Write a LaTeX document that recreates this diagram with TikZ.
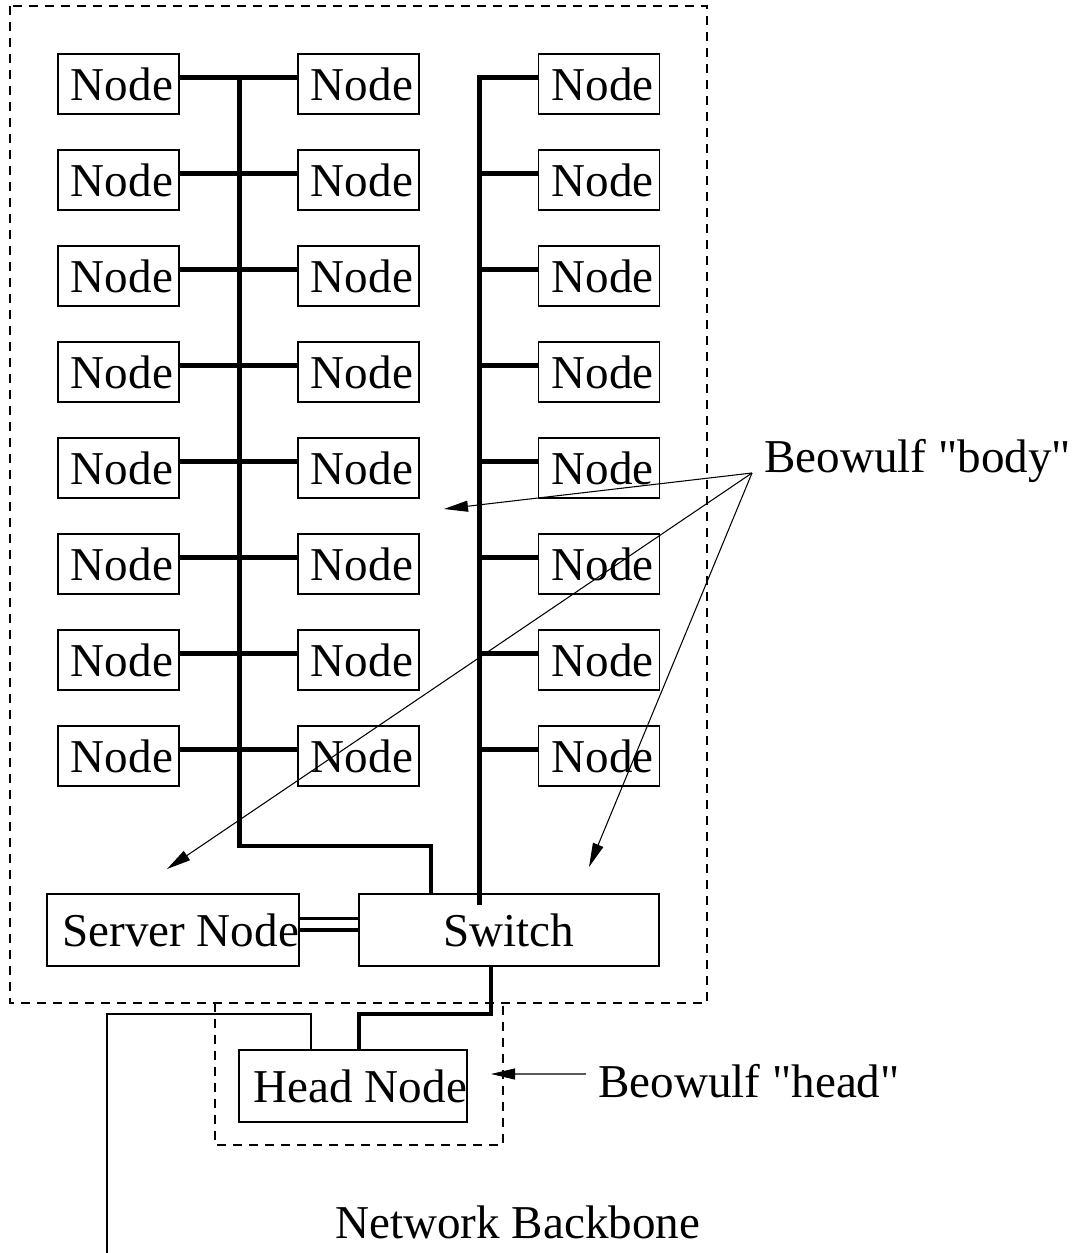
\documentclass[tikz,border=0pt]{standalone}
\usepackage{fontspec}
\setmainfont{Liberation Serif}
\usetikzlibrary{arrows.meta}

\begin{document}
\begin{tikzpicture}[x=0.1mm,y=-0.1mm,
  font=\fontsize{13.4}{16}\selectfont,
  unit/.style={draw,line width=0.4pt,inner xsep=0.6mm,inner ysep=0pt,text width=10.9mm,align=flush right,minimum height=6mm},
  bigunit/.style={draw,line width=0.4pt,inner sep=0pt,text width=#1,align=flush right,minimum height=7.2mm},
  bus/.style={line width=1.15pt},
  dbl/.style={line width=1pt},
  wire/.style={line width=0.3pt},
  pointer/.style={line width=0.3pt,-{Triangle[length=2.4mm,width=1.1mm]}},
  fence/.style={line width=0.4pt,dash pattern=on 0.9mm off 0.7mm}]
\useasboundingbox (0,0) rectangle (1089,1253);

\draw[fence] (10,6) rectangle (707,1003);
\draw[fence] (215,1003) -- (215,1145) -- (503,1145) -- (503,1003);

\node[unit] (l1) at (118.5,84) {Node};
\node[unit] (l2) at (118.5,180) {Node};
\node[unit] (l3) at (118.5,276) {Node};
\node[unit] (l4) at (118.5,372) {Node};
\node[unit] (l5) at (118.5,468) {Node};
\node[unit] (l6) at (118.5,564) {Node};
\node[unit] (l7) at (118.5,660) {Node};
\node[unit] (l8) at (118.5,756) {Node};

\node[unit] (m1) at (358.5,84) {Node};
\node[unit] (m2) at (358.5,180) {Node};
\node[unit] (m3) at (358.5,276) {Node};
\node[unit] (m4) at (358.5,372) {Node};
\node[unit] (m5) at (358.5,468) {Node};
\node[unit] (m6) at (358.5,564) {Node};
\node[unit] (m7) at (358.5,660) {Node};
\node[unit] (m8) at (358.5,756) {Node};

\node[unit] (r1) at (599,84) {Node};
\node[unit] (r2) at (599,180) {Node};
\node[unit] (r3) at (599,276) {Node};
\node[unit] (r4) at (599,372) {Node};
\node[unit] (r5) at (599,468) {Node};
\node[unit] (r6) at (599,564) {Node};
\node[unit] (r7) at (599,660) {Node};
\node[unit] (r8) at (599,756) {Node};

\node[bigunit=25.2mm] (server) at (173,930) {Server Node};
\node[bigunit=30mm,align=center] (switch) at (509,930) {Switch};
\node[bigunit=22.8mm] (head) at (353,1086) {Head Node};

\draw[bus] ([yshift=.65mm]l1.east) -- ([yshift=.65mm]m1.west);
\draw[bus] ([yshift=.65mm]l2.east) -- ([yshift=.65mm]m2.west);
\draw[bus] ([yshift=.65mm]l3.east) -- ([yshift=.65mm]m3.west);
\draw[bus] ([yshift=.65mm]l4.east) -- ([yshift=.65mm]m4.west);
\draw[bus] ([yshift=.65mm]l5.east) -- ([yshift=.65mm]m5.west);
\draw[bus] ([yshift=.65mm]l6.east) -- ([yshift=.65mm]m6.west);
\draw[bus] ([yshift=.65mm]l7.east) -- ([yshift=.65mm]m7.west);
\draw[bus] ([yshift=.65mm]l8.east) -- ([yshift=.65mm]m8.west);

\coordinate (ltop) at (239.5,77.5);
\coordinate (lturn) at (431,846);
\draw[bus] (ltop) |- (lturn) -- (lturn |- switch.north);

\coordinate (rfoot) at (479.5,905);
\draw[bus] ([yshift=.65mm]r1.west) -| (rfoot);
\draw[bus] ([yshift=.65mm]r2.west) -- ([yshift=.65mm]r2.west -| rfoot);
\draw[bus] ([yshift=.65mm]r3.west) -- ([yshift=.65mm]r3.west -| rfoot);
\draw[bus] ([yshift=.65mm]r4.west) -- ([yshift=.65mm]r4.west -| rfoot);
\draw[bus] ([yshift=.65mm]r5.west) -- ([yshift=.65mm]r5.west -| rfoot);
\draw[bus] ([yshift=.65mm]r6.west) -- ([yshift=.65mm]r6.west -| rfoot);
\draw[bus] ([yshift=.65mm]r7.west) -- ([yshift=.65mm]r7.west -| rfoot);
\draw[bus] ([yshift=.65mm]r8.west) -- ([yshift=.65mm]r8.west -| rfoot);

\draw[dbl] (server.east) -- (switch.west);
\draw[dbl] ([yshift=1.17mm]server.east) -- ([yshift=1.17mm]switch.west);

\coordinate (hturn) at (491,1014);
\draw[bus] (hturn |- switch.south) -- (hturn) -| ([xshift=.63mm]head.north);

\coordinate (bbfoot) at (107,1253);
\coordinate (bbturn) at (311,1014);
\draw[wire] (bbfoot) |- (bbturn) -- (bbturn |- head.north);

\node[anchor=base west] (bodylbl) at (752,473) {Beowulf \textquotedbl body\textquotedbl};
\coordinate (tipa) at (444,509);
\coordinate (tipb) at (167,869);
\coordinate (tipc) at (589,867);
\draw[pointer] (bodylbl.base west) -- (tipa);
\draw[pointer] (bodylbl.base west) -- (tipb);
\draw[pointer] (bodylbl.base west) -- (tipc);

\node[anchor=base west] (headlbl) at (586,1097) {Beowulf \textquotedbl head\textquotedbl};
\coordinate (tipd) at (491,1074);
\draw[pointer] ([yshift=2.3mm]headlbl.base west) -- (tipd);

\node[anchor=base west] (backbone) at (323,1238) {Network Backbone};
\end{tikzpicture}
\end{document}
